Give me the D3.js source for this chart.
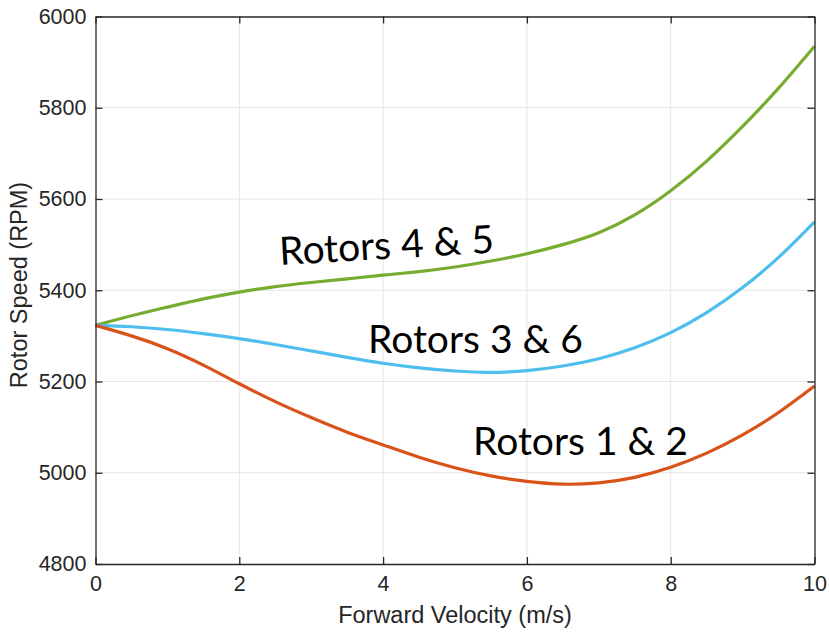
<!DOCTYPE html>
<html>
<head>
<meta charset="utf-8">
<script src="https://cdn.jsdelivr.net/npm/d3@7"></script>
<style>
  html, body { margin: 0; padding: 0; background: #fff; }
  svg { display: block; }
</style>
</head>
<body>
<svg id="chart" width="829" height="632"></svg>
<script>
// Forward velocity samples (m/s)
const velocity = [0, 0.5, 1, 1.5, 2, 2.5, 3, 3.5, 4, 4.5, 5, 5.5, 6, 6.5, 7, 7.5, 8, 8.5, 9, 9.5, 10];

// Rotor speeds (RPM) for each rotor pair
const rotors45 = [5323, 5344, 5363, 5381, 5396, 5408, 5417, 5425, 5433, 5441, 5451, 5464, 5480, 5500, 5526, 5565, 5618, 5683, 5759, 5843, 5935];
const rotors36 = [5323, 5320, 5314, 5305, 5294, 5281, 5267, 5253, 5240, 5230, 5223, 5220, 5224, 5234, 5250, 5274, 5307, 5351, 5406, 5472, 5550];
const rotors12 = [5323, 5300, 5272, 5236, 5195, 5156, 5121, 5089, 5061, 5034, 5011, 4993, 4981, 4975, 4978, 4990, 5012, 5043, 5083, 5132, 5190];

const xTicks = [0, 2, 4, 6, 8, 10];
const yTicks = [4800, 5000, 5200, 5400, 5600, 5800, 6000];

const seriesNames = ["Rotors 4 & 5", "Rotors 3 & 6", "Rotors 1 & 2"];
const seriesColors = ["#77AC30", "#4DBEEE", "#D95319"];

const svg = d3.select("#chart");
const plotLeft = 95.5, plotRight = 814.5, plotTop = 16.5, plotBottom = 564;

const x = d3.scaleLinear().domain([0, 10]).range([plotLeft, plotRight]);
const y = d3.scaleLinear().domain([4800, 6000]).range([plotBottom, plotTop]);

const axisColor = "#262626";
const tickFont = "'Liberation Sans', Arial, sans-serif";
const tickSize = 21.5;
const titleSize = 23.5;

// grid
const grid = svg.append("g");
grid.selectAll("line.gx").data(xTicks.slice(1, -1)).join("line")
  .attr("x1", d => x(d)).attr("x2", d => x(d))
  .attr("y1", plotTop).attr("y2", plotBottom)
  .attr("stroke", "#e5e5e5").attr("stroke-width", 1);
grid.selectAll("line.gy").data(yTicks.slice(1, -1)).join("line")
  .attr("x1", plotLeft).attr("x2", plotRight)
  .attr("y1", d => y(d)).attr("y2", d => y(d))
  .attr("stroke", "#e5e5e5").attr("stroke-width", 1);

// curves
const line = d3.line()
  .x((d, i) => x(velocity[i]))
  .y(d => y(d))
  .curve(d3.curveNatural);

[rotors45, rotors36, rotors12].forEach((vals, k) => {
  svg.append("path")
    .datum(vals)
    .attr("d", line)
    .attr("fill", "none")
    .attr("stroke", seriesColors[k])
    .attr("stroke-width", 3.2)
    .attr("stroke-linejoin", "round");
});

// axes (box with inward ticks on all sides)
function styleAxis(g) {
  g.select(".domain").attr("stroke", axisColor).attr("stroke-width", 1.3);
  g.selectAll(".tick line").attr("stroke", axisColor).attr("stroke-width", 1.3);
  g.selectAll(".tick text").attr("fill", axisColor)
    .attr("font-family", tickFont).attr("font-size", tickSize);
}

svg.append("g").attr("transform", `translate(0,${plotBottom})`)
  .call(d3.axisBottom(x).tickValues(xTicks).tickFormat(d3.format("d"))
    .tickSizeInner(-7).tickSizeOuter(0).tickPadding(12))
  .call(styleAxis);

svg.append("g").attr("transform", `translate(${plotLeft},0)`)
  .call(d3.axisLeft(y).tickValues(yTicks).tickFormat(d3.format("d"))
    .tickSizeInner(-7).tickSizeOuter(0).tickPadding(9))
  .call(styleAxis);

svg.append("g").attr("transform", `translate(0,${plotTop})`)
  .call(d3.axisTop(x).tickValues(xTicks).tickFormat("")
    .tickSizeInner(-7).tickSizeOuter(0))
  .call(styleAxis);

svg.append("g").attr("transform", `translate(${plotRight},0)`)
  .call(d3.axisRight(y).tickValues(yTicks).tickFormat("")
    .tickSizeInner(-7).tickSizeOuter(0))
  .call(styleAxis);

// axis titles
svg.append("text")
  .attr("x", (plotLeft + plotRight) / 2).attr("y", 623)
  .attr("text-anchor", "middle")
  .attr("font-family", tickFont).attr("font-size", titleSize)
  .attr("fill", axisColor)
  .text("Forward Velocity (m/s)");

svg.append("text")
  .attr("transform", `translate(27,285) rotate(-90)`)
  .attr("text-anchor", "middle")
  .attr("font-family", tickFont).attr("font-size", titleSize)
  .attr("fill", axisColor)
  .text("Rotor Speed (RPM)");

// curve annotations
const labelFont = "Lato, 'Open Sans', sans-serif";
const labels = [
  { text: seriesNames[0], px: 280, py: 265, rot: -3.3 },
  { text: seriesNames[1], px: 368, py: 353, rot: 0 },
  { text: seriesNames[2], px: 473, py: 455, rot: 0 }
];
labels.forEach(l => {
  svg.append("text")
    .attr("transform", `translate(${l.px},${l.py}) rotate(${l.rot})`)
    .attr("font-family", labelFont).attr("font-size", 39)
    .attr("fill", "#000")
    .text(l.text);
});
</script>
</body>
</html>
